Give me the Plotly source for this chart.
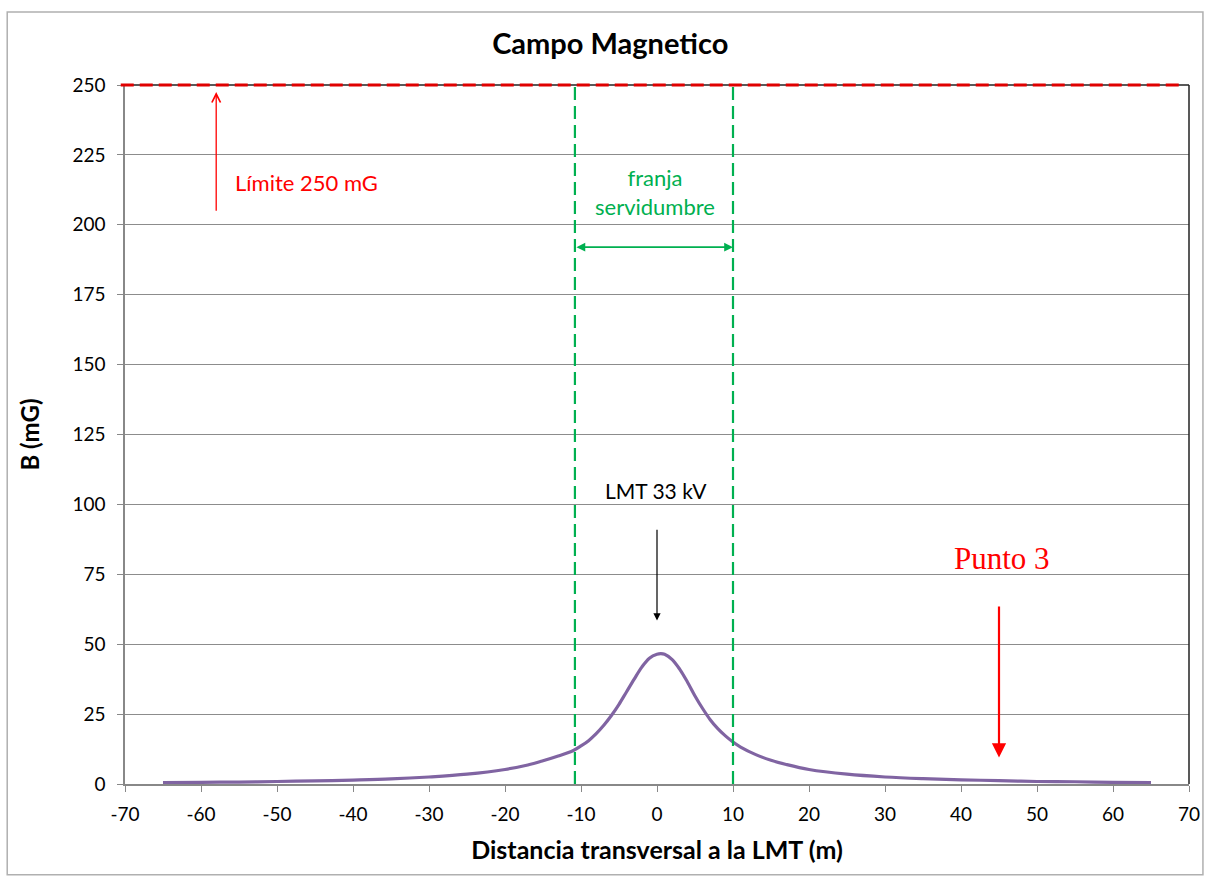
import plotly.graph_objects as go

# Data
dist_m = [-65, -60, -55, -50, -45, -40, -35, -30, -25, -20, -17, -15, -13, -11, -10, -9, -8, -7, -6, -5, -4, -3, -2, -1,
          0, 0.5, 1, 2, 3, 4, 5, 6, 7, 8, 9, 10, 11, 13, 15, 17, 20, 25, 30, 35, 40, 45, 50, 55, 60, 65]
b_mg = [0.5, 0.6, 0.7, 0.9, 1.1, 1.4, 1.8, 2.5, 3.5, 5.2, 6.8, 8.3, 10.0, 12.0, 13.6, 15.5, 18.0, 21.0, 24.5, 28.5, 33.0, 37.5, 41.8, 45.0,
        46.4, 46.6, 46.4, 44.5, 41.0, 36.5, 31.5, 27.0, 23.0, 19.8, 17.2, 15.0, 13.2, 10.5, 8.5, 7.0, 5.2, 3.5, 2.5, 1.9, 1.5, 1.2, 0.9, 0.8, 0.6, 0.5]

x_tick_vals = [-70, -60, -50, -40, -30, -20, -10, 0, 10, 20, 30, 40, 50, 60, 70]
x_tick_text = ["-70", "-60", "-50", "-40", "-30", "-20", "-10", "0", "10", "20", "30", "40", "50", "60", "70"]
y_tick_vals = [0, 25, 50, 75, 100, 125, 150, 175, 200, 225, 250]

limit_value = 250
strip_edges = [-10.8, 10]
strip_arrow_y = 192
limit_arrow_x = -58
lmt_x = 0
punto_x = 45

FONT = "Lato, Open Sans, sans-serif"

fig = go.Figure()

# magnetic field curve
fig.add_trace(go.Scatter(x=dist_m, y=b_mg, mode="lines", line=dict(color="#8064A2", width=3.2, shape="spline"),
                         showlegend=False))

shapes = []
# plot frame top/right (dark)
shapes.append(dict(type="line", xref="paper", yref="paper", x0=0, x1=1, y0=1, y1=1, line=dict(color="#222222", width=1.5)))
shapes.append(dict(type="line", xref="paper", yref="paper", x0=1, x1=1, y0=0, y1=1, line=dict(color="#222222", width=1.5)))
# limit line (red dashed) at limit_value, which is the top of the y range
shapes.append(dict(type="line", xref="paper", yref="paper", x0=-0.004, x1=0.994,
                   y0=limit_value / 250, y1=limit_value / 250,
                   line=dict(color="#E00000", width=3, dash="13px,6px")))
# servitude strip dashed lines
for xe in strip_edges:
    shapes.append(dict(type="line", xref="x", yref="y", x0=xe, x1=xe, y0=0, y1=250,
                       line=dict(color="#00B050", width=2.2, dash="13px,6px")))
# outer chart border
shapes.append(dict(type="rect", xref="paper", yref="paper", x0=-0.1107, x1=1.0131, y0=-0.130, y1=1.1044,
                   line=dict(color="#B0B0B0", width=1.5)))

annotations = []
# Límite arrow
annotations.append(dict(x=limit_arrow_x, y=247.5, ax=limit_arrow_x, ay=204.5, xref="x", yref="y", axref="x", ayref="y",
                        text="", showarrow=True, arrowhead=5, arrowsize=1.3, arrowwidth=1.3, arrowcolor="#FF0000"))
annotations.append(dict(x=-55.8, y=215, xref="x", yref="y", text="Límite 250 mG", showarrow=False, xanchor="left",
                        font=dict(family=FONT, size=22, color="#FF0000")))
# franja servidumbre
annotations.append(dict(x=strip_edges[1], y=strip_arrow_y, ax=strip_edges[0], ay=strip_arrow_y, xref="x", yref="y",
                        axref="x", ayref="y", text="", showarrow=True, arrowhead=2, startarrowhead=2, arrowside="end+start",
                        arrowsize=1.1, startarrowsize=1.1, arrowwidth=1.6, arrowcolor="#00B050"))
annotations.append(dict(x=-0.3, y=211.7, xref="x", yref="y", text="franja<br>servidumbre", showarrow=False,
                        font=dict(family=FONT, size=22, color="#00B050")))
# LMT 33 kV
annotations.append(dict(x=lmt_x, y=58.5, ax=lmt_x, ay=91.5, xref="x", yref="y", axref="x", ayref="y",
                        text="", showarrow=True, arrowhead=2, arrowsize=1.2, arrowwidth=1.2, arrowcolor="#000000"))
annotations.append(dict(x=-0.15, y=105, xref="x", yref="y", text="LMT 33 kV", showarrow=False,
                        font=dict(family=FONT, size=21, color="#000000")))
# Punto 3
annotations.append(dict(x=punto_x, y=9.5, ax=punto_x, ay=64, xref="x", yref="y", axref="x", ayref="y",
                        text="", showarrow=True, arrowhead=2, arrowsize=1.3, arrowwidth=2.2, arrowcolor="#FF0000"))
annotations.append(dict(x=45.4, y=80.8, xref="x", yref="y", text="Punto 3", showarrow=False,
                        font=dict(family="Liberation Serif, Times New Roman, serif", size=31, color="#FF0000")))

tickfont = dict(family=FONT, size=19, color="#000000")
fig.update_layout(
    width=1212, height=879,
    margin=dict(l=125, r=21, t=85, b=95),
    paper_bgcolor="white", plot_bgcolor="white",
    title=dict(text="<b>Campo Magnetico</b>", x=0.5035, xanchor="center", y=1 - 44 / 879, yanchor="middle",
               font=dict(family=FONT, size=29, color="#000000")),
    xaxis=dict(range=[-70, 70], tickvals=x_tick_vals, ticktext=x_tick_text, showgrid=False, zeroline=False,
               showline=True, linecolor="#888888", linewidth=1.5, ticks="outside", ticklen=6, tickcolor="#888888",
               tickfont=tickfont, ticklabelstandoff=6,
               title=dict(text="<b>Distancia transversal a la LMT (m)</b>", standoff=18,
                          font=dict(family=FONT, size=25, color="#000000"))),
    yaxis=dict(range=[0, 250], tickvals=y_tick_vals, showgrid=True, gridcolor="#8C8C8C", gridwidth=1, zeroline=False,
               showline=True, linecolor="#888888", linewidth=1.5, ticks="outside", ticklen=6, tickcolor="#888888",
               tickfont=tickfont, ticklabelstandoff=8,
               title=dict(text="<b>B (mG)</b>", standoff=26,
                          font=dict(family=FONT, size=24, color="#000000"))),
    shapes=shapes, annotations=annotations,
)

fig.write_html("out.html", config={"displayModeBar": False},
               post_script="document.body.style.margin='0';document.body.style.overflow='hidden';")
